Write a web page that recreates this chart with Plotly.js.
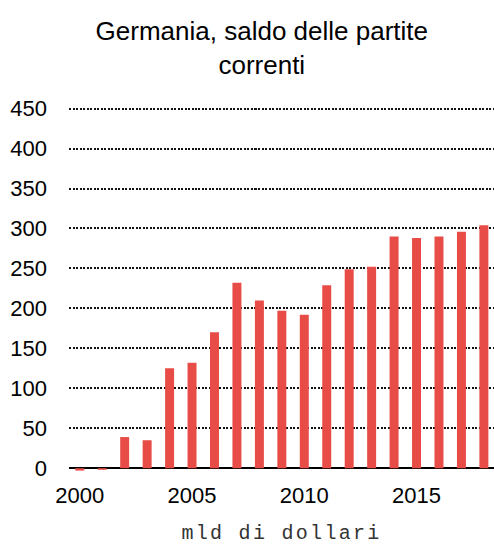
<!DOCTYPE html>
<html><head><meta charset="utf-8">
<script src="https://cdn.plot.ly/plotly-3.0.1.min.js"></script>
<style>html,body{margin:0;padding:0;background:#fff}
.xtitle{letter-spacing:2.3px}
</style>
</head><body>
<div id="chart" style="width:494px;height:545px"></div>
<script>
var years = [2000,2001,2002,2003,2004,2005,2006,2007,2008,2009,2010,2011,2012,2013,2014,2015,2016,2017,2018];
var saldo = [-3,-2,39,35,125,132,170,232,210,197,192,229,249,252,290,288,290,296,304];
var yTicks = [0,50,100,150,200,250,300,350,400,450];
var xTicks = [2000,2005,2010,2015];
var titleText = 'Germania, saldo delle partite<br>correnti';
var xTitle = 'mld di dollari';

var trace = {
  type: 'bar', x: years, y: saldo,
  marker: {color: '#e84c47', line: {width: 0}},
  width: 0.4, hoverinfo: 'x+y'
};
var layout = {
  width: 494, height: 545,
  margin: {l: 69, r: 0, t: 107, b: 72},
  paper_bgcolor: '#fff', plot_bgcolor: '#fff',
  showlegend: false,
  font: {family: 'Liberation Sans, Arial, sans-serif', color: '#000', size: 22},
  title: {text: titleText, xref: 'container', x: 0.53, xanchor: 'center', yref: 'container', y: 0.927, yanchor: 'middle',
          font: {size: 26, color: '#000', family: 'Liberation Sans, Arial, sans-serif'}},
  xaxis: {range: [1999.52, 2018.45], tickvals: xTicks, ticktext: xTicks.map(String), showgrid: false, zeroline: false,
          showline: false, ticks: '', tickfont: {size: 22}, ticklabelstandoff: 7,
          title: {text: xTitle, font: {family: 'Liberation Mono, Courier New, monospace', size: 20, color: '#333'}, standoff: 20}},
  yaxis: {range: [-6, 452], tickvals: yTicks, ticktext: yTicks.map(String), showgrid: true, gridcolor: '#111', gridwidth: 2,
          griddash: '2px,1.5px', zeroline: true, zerolinecolor: '#000', zerolinewidth: 2, showline: false, ticks: '',
          tickfont: {size: 22}, ticklabelstandoff: 21}
};
Plotly.newPlot('chart', [trace], layout, {displayModeBar: false, staticPlot: true});
</script>
</body></html>
